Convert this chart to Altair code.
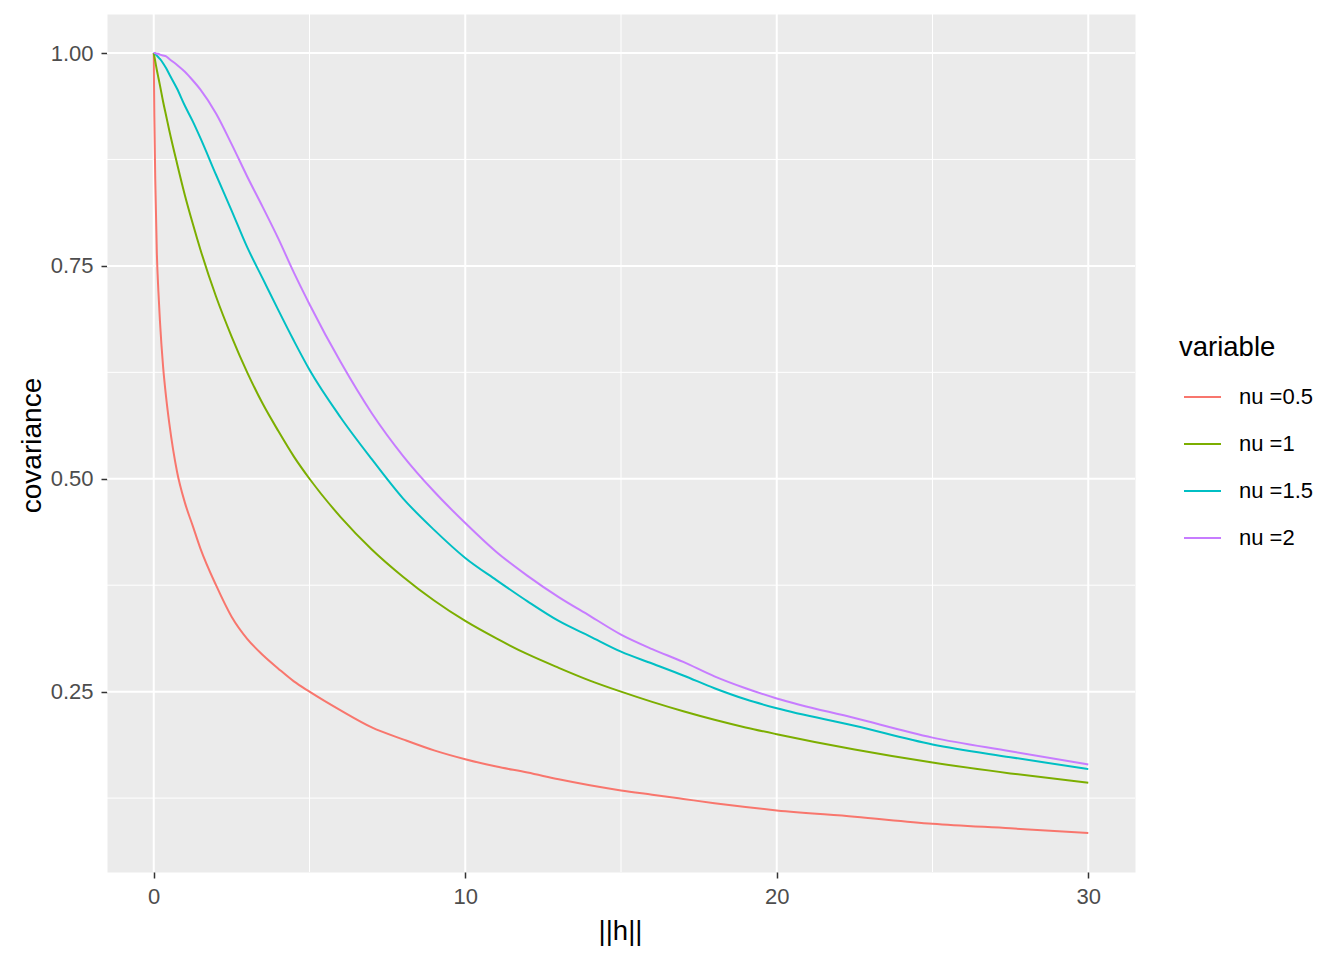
import altair as alt
import pandas as pd

# distance grid (||h||)
h = [0, 0.02, 0.05, 0.1, 0.15, 0.2, 0.3, 0.4, 0.5, 0.75, 1, 1.25, 1.5, 2, 2.5, 3, 3.5,
     4, 4.5, 5, 6, 7, 8, 9, 10, 11, 12, 13, 14, 15, 16, 17, 18, 19, 20, 22.5, 25, 27.5, 30]

nu_05 = [1.0, 0.925, 0.85, 0.765, 0.72, 0.685, 0.632, 0.595, 0.565, 0.508, 0.472, 0.445, 0.418,
         0.375, 0.338, 0.312, 0.293, 0.277, 0.262, 0.25, 0.228, 0.208, 0.194, 0.181, 0.1706,
         0.162, 0.155, 0.147, 0.14, 0.134, 0.129, 0.124, 0.119, 0.1145, 0.1105, 0.1031, 0.0949,
         0.0895, 0.084]
nu_1 = [1.0, 0.996, 0.99, 0.98, 0.971, 0.962, 0.943, 0.926, 0.909, 0.87, 0.833, 0.8, 0.769,
        0.714, 0.667, 0.625, 0.588, 0.556, 0.526, 0.5, 0.455, 0.417, 0.385, 0.357, 0.333,
        0.3125, 0.294, 0.278, 0.263, 0.25, 0.238, 0.227, 0.217, 0.208, 0.2, 0.182, 0.1667,
        0.154, 0.143]
nu_15 = [1.0, 1.0, 0.999, 0.997, 0.995, 0.993, 0.988, 0.982, 0.975, 0.958, 0.938, 0.92, 0.9,
         0.857, 0.815, 0.772, 0.735, 0.698, 0.662, 0.628, 0.572, 0.523, 0.477, 0.44, 0.407,
         0.381, 0.356, 0.333, 0.315, 0.297, 0.283, 0.269, 0.254, 0.241, 0.2305, 0.21, 0.188,
         0.173, 0.159]
nu_2 = [1.0, 1.0, 1.0, 0.999, 0.999, 0.998, 0.997, 0.996, 0.993, 0.986, 0.978, 0.968, 0.957,
        0.929, 0.893, 0.855, 0.819, 0.782, 0.742, 0.705, 0.637, 0.577, 0.527, 0.485, 0.448,
        0.414, 0.386, 0.361, 0.339, 0.317, 0.3, 0.285, 0.268, 0.254, 0.242, 0.219, 0.196,
        0.18, 0.1645]

series_names = ["nu =0.5", "nu =1", "nu =1.5", "nu =2"]
series_values = [nu_05, nu_1, nu_15, nu_2]
colors = ["#F8766D", "#7CAE00", "#00BFC4", "#C77CFF"]

x_major = [0, 10, 20, 30]
x_minor = [5, 15, 25]
y_major = [0.25, 0.5, 0.75, 1.0]
y_minor = [0.125, 0.375, 0.625, 0.875]

rows = []
for name, vals in zip(series_names, series_values):
    for hv, v in zip(h, vals):
        rows.append({"h": hv, "value": v, "variable": name})
df = pd.DataFrame(rows)

xscale = alt.Scale(domain=[-1.5, 31.5], nice=False, zero=False)
yscale = alt.Scale(domain=[0.0382, 1.0458], nice=False, zero=False)

FONT = "Liberation Sans"

xaxis = alt.Axis(title="||h||", values=x_major, format="d", grid=False, domain=False,
                 tickColor="#333333", tickSize=6, tickWidth=1.5,
                 labelColor="#4D4D4D", labelFontSize=22, labelFont=FONT,
                 labelPadding=8, titleFont=FONT, titleFontSize=27.5,
                 titleFontWeight="normal", titleColor="black",
                 titleX=513, titleY=67, titleAlign="center",
                 titleBaseline="alphabetic")
yaxis = alt.Axis(title="covariance", values=y_major, format=".2f", grid=False,
                 domain=False, tickColor="#333333", tickSize=6, tickWidth=1.5,
                 labelColor="#4D4D4D", labelFontSize=22, labelFont=FONT,
                 labelPadding=8, titleFont=FONT, titleFontSize=28,
                 titleFontWeight="normal", titleColor="black",
                 titleAngle=270, titleX=-67, titleY=431, titleAlign="center",
                 titleBaseline="alphabetic")

xminor = alt.Chart(pd.DataFrame({"h": x_minor})).mark_rule(color="white", strokeWidth=1).encode(
    x=alt.X("h:Q", scale=xscale, axis=xaxis))
yminor = alt.Chart(pd.DataFrame({"value": y_minor})).mark_rule(color="white", strokeWidth=1).encode(
    y=alt.Y("value:Q", scale=yscale, axis=yaxis))
xmajor = alt.Chart(pd.DataFrame({"h": x_major})).mark_rule(color="white", strokeWidth=2).encode(
    x=alt.X("h:Q", scale=xscale, axis=xaxis))
ymajor = alt.Chart(pd.DataFrame({"value": y_major})).mark_rule(color="white", strokeWidth=2).encode(
    y=alt.Y("value:Q", scale=yscale, axis=yaxis))

lines = alt.Chart(df).mark_line(strokeWidth=2, clip=True, interpolate="monotone").encode(
    x=alt.X("h:Q", scale=xscale, axis=xaxis),
    y=alt.Y("value:Q", scale=yscale, axis=yaxis),
    color=alt.Color("variable:N",
                    scale=alt.Scale(domain=series_names, range=colors),
                    legend=alt.Legend(title="variable", orient="none", legendX=1072, legendY=320,
                                      symbolType="stroke", symbolSize=1369,
                                      symbolStrokeWidth=2, symbolOffset=4,
                                      labelFont=FONT, labelFontSize=22, labelColor="black",
                                      labelOffset=17, rowPadding=16,
                                      titleFont=FONT, titleFontSize=27.5,
                                      titleFontWeight="normal", titleColor="black",
                                      titlePadding=16)),
    detail="variable:N",
)

chart = alt.layer(xminor, yminor, xmajor, ymajor, lines).properties(
    width=1028, height=858,
    autosize=alt.AutoSizeParams(type="none"),
    padding={"left": 99, "top": 6, "right": 200, "bottom": 80},
    background="white",
).configure_view(fill="#EBEBEB", stroke="transparent")

chart.save("out.html", embed_options={"renderer": "svg", "actions": False})
